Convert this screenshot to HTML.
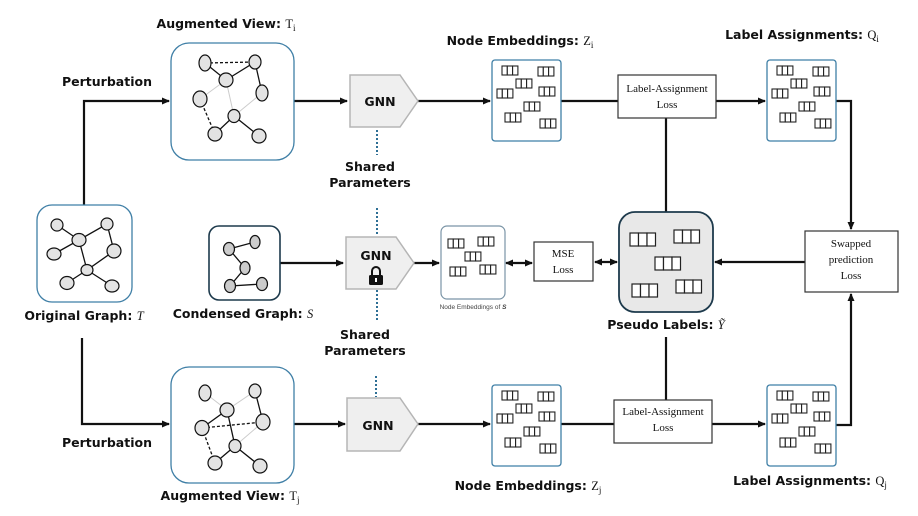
<!DOCTYPE html>
<html><head><meta charset="utf-8"><style>
html,body{margin:0;padding:0;background:#fff;}
svg{display:block;}
.b{font-family:"DejaVu Sans","Liberation Sans",sans-serif;font-weight:bold;font-size:12.5px;fill:#111;}
.s{font-family:"Liberation Serif",serif;font-size:11px;fill:#111;}
</style></head><body>
<svg width="918" height="516" viewBox="0 0 918 516" xmlns="http://www.w3.org/2000/svg">
<defs>
<marker id="a" markerWidth="8" markerHeight="8" refX="7" refY="4" orient="auto" markerUnits="userSpaceOnUse"><path d="M0,0.5 L8,4 L0,7.5 Z" fill="#111"/></marker>
<marker id="as" markerWidth="8" markerHeight="8" refX="1" refY="4" orient="auto" markerUnits="userSpaceOnUse"><path d="M8,0.5 L0,4 L8,7.5 Z" fill="#111"/></marker>
<g id="c"><rect x="0" y="0" width="5.3" height="9" fill="#fff" stroke="#222" stroke-width="1.1"/><rect x="5.3" y="0" width="5.3" height="9" fill="#fff" stroke="#222" stroke-width="1.1"/><rect x="10.6" y="0" width="5.3" height="9" fill="#fff" stroke="#222" stroke-width="1.1"/></g>
<g id="C"><rect x="0" y="0" width="8.5" height="13" fill="#fff" stroke="#222" stroke-width="1.2"/><rect x="8.5" y="0" width="8.5" height="13" fill="#fff" stroke="#222" stroke-width="1.2"/><rect x="17" y="0" width="8.5" height="13" fill="#fff" stroke="#222" stroke-width="1.2"/></g>
<g id="emb">
<use href="#c" x="10" y="6"/><use href="#c" x="46" y="7"/><use href="#c" x="24" y="19"/><use href="#c" x="5" y="29"/><use href="#c" x="47" y="27"/><use href="#c" x="32" y="42"/><use href="#c" x="13" y="53"/><use href="#c" x="48" y="59"/>
</g>
</defs>
<g fill="none" stroke="#111" stroke-width="2.2">
<polyline points="84,205 84,101 169,101" marker-end="url(#a)"/>
<line x1="294" y1="101" x2="347" y2="101" marker-end="url(#a)"/>
<line x1="418" y1="101" x2="490" y2="101" marker-end="url(#a)"/>
<line x1="561" y1="101" x2="618" y2="101"/>
<line x1="716" y1="101" x2="765" y2="101" marker-end="url(#a)"/>
<polyline points="836,101 851,101 851,229" marker-end="url(#a)"/>
<line x1="666" y1="118" x2="666" y2="212"/>
<polyline points="82,338 82,424 169,424" marker-end="url(#a)"/>
<line x1="294" y1="424" x2="345" y2="424" marker-end="url(#a)"/>
<line x1="418" y1="424" x2="490" y2="424" marker-end="url(#a)"/>
<line x1="561" y1="424" x2="614" y2="424"/>
<line x1="712" y1="424" x2="765" y2="424" marker-end="url(#a)"/>
<polyline points="836,425 851,425 851,294" marker-end="url(#a)"/>
<line x1="666" y1="337" x2="666" y2="400"/>
<line x1="280" y1="263" x2="343" y2="263" marker-end="url(#a)"/>
<line x1="414" y1="263" x2="439" y2="263" marker-end="url(#a)"/>
<line x1="506" y1="263" x2="532" y2="263" marker-start="url(#as)" marker-end="url(#a)"/>
<line x1="595" y1="262" x2="617" y2="262" marker-start="url(#as)" marker-end="url(#a)"/>
<line x1="805" y1="262" x2="715" y2="262" marker-end="url(#a)"/>
</g>
<g stroke="#2e6f95" stroke-width="2" stroke-dasharray="2,2">
<line x1="377" y1="130" x2="377" y2="155"/><line x1="377" y1="208" x2="377" y2="236"/>
<line x1="377" y1="290" x2="377" y2="322"/><line x1="376" y1="376" x2="376" y2="397"/>
</g>
<g fill="#fff" stroke="#3f7fa6" stroke-width="1.3">
<rect x="171" y="43" width="123" height="117" rx="18"/>
<rect x="171" y="367" width="123" height="116" rx="18"/>
<rect x="37" y="205" width="95" height="97" rx="15"/>
<rect x="492" y="60" width="69" height="81" rx="3"/>
<rect x="767" y="60" width="69" height="81" rx="3"/>
<rect x="492" y="385" width="69" height="81" rx="3"/>
<rect x="767" y="385" width="69" height="81" rx="3"/>
</g>
<rect x="209" y="226" width="71" height="74" rx="10" fill="#fff" stroke="#1d3a4c" stroke-width="1.6"/>
<rect x="441" y="226" width="64" height="73" rx="6" fill="#fff" stroke="#7a94a6" stroke-width="1.2"/>
<rect x="619" y="212" width="94" height="100" rx="16" fill="#e8e8e8" stroke="#1d3a4c" stroke-width="1.8"/>
<g fill="#fff" stroke="#333" stroke-width="1.2">
<rect x="618" y="75" width="98" height="43"/>
<rect x="614" y="400" width="98" height="43"/>
<rect x="534" y="242" width="59" height="39"/>
<rect x="805" y="231" width="93" height="61"/>
</g>
<g fill="#efefef" stroke="#b5b5b5" stroke-width="1.5">
<polygon points="350,75 400,75 418,101 400,127 350,127"/>
<polygon points="346,237 396,237 414,263 396,289 346,289"/>
<polygon points="347,398 400,398 418,424 400,451 347,451"/>
</g>
<text class="b" x="380" y="106" text-anchor="middle" font-size="13">GNN</text>
<text class="b" x="376" y="260" text-anchor="middle" font-size="13">GNN</text>
<text class="b" x="378" y="430" text-anchor="middle" font-size="13">GNN</text>
<path d="M372,275 v-4 a4,4 0 0 1 8,0 v4" fill="none" stroke="#111" stroke-width="2"/>
<rect x="369" y="275" width="14" height="10" rx="1.5" fill="#111"/>
<rect x="375" y="278" width="2" height="4" fill="#fff"/>
<use href="#emb" x="492" y="60"/><use href="#emb" x="767" y="60"/>
<use href="#emb" x="492" y="385"/><use href="#emb" x="767" y="385"/>
<use href="#c" x="448" y="239"/><use href="#c" x="478" y="237"/><use href="#c" x="465" y="252"/><use href="#c" x="450" y="267"/><use href="#c" x="480" y="265"/>
<use href="#C" x="630" y="233"/><use href="#C" x="674" y="230"/><use href="#C" x="655" y="257"/><use href="#C" x="632" y="284"/><use href="#C" x="676" y="280"/>
<g stroke="#111" stroke-width="1.3" fill="none">
<path d="M57,225L79,240L107,224L114,251L87,270L79,240L54,254M87,270L67,283M87,270L112,286"/>
<path d="M205,63L226,80L255,62L262,93M234,116L215,134M234,116L259,136"/>
<path d="M205,63L255,62M200,99L215,134" stroke-dasharray="3,2"/>
<path d="M226,80L234,116M200,99L226,80M262,93L234,116" stroke="#ccc" stroke-width="1"/>
<path d="M255,391L263,422M202,428L227,410L235,446L215,463M235,446L260,466"/>
<path d="M202,428L263,422M202,428L215,463" stroke-dasharray="3,2"/>
<path d="M205,393L227,410L255,391M263,422L235,446" stroke="#ccc" stroke-width="1"/>
<path d="M229,249L255,242M229,249L245,268L230,286L262,284"/>
</g>
<g fill="#e3e3e3" stroke="#111" stroke-width="1.2">
<ellipse cx="57" cy="225" rx="6" ry="6"/><ellipse cx="107" cy="224" rx="6" ry="6"/><ellipse cx="79" cy="240" rx="7" ry="6.5"/><ellipse cx="54" cy="254" rx="7" ry="6"/><ellipse cx="114" cy="251" rx="7" ry="7"/><ellipse cx="87" cy="270" rx="6" ry="5.5"/><ellipse cx="67" cy="283" rx="7" ry="6.5"/><ellipse cx="112" cy="286" rx="7" ry="6"/>
<ellipse cx="205" cy="63" rx="6" ry="8"/><ellipse cx="255" cy="62" rx="6" ry="7"/><ellipse cx="226" cy="80" rx="7" ry="7"/><ellipse cx="200" cy="99" rx="7" ry="8"/><ellipse cx="262" cy="93" rx="6" ry="8"/><ellipse cx="234" cy="116" rx="6" ry="6.5"/><ellipse cx="215" cy="134" rx="7" ry="7"/><ellipse cx="259" cy="136" rx="7" ry="7"/>
<ellipse cx="205" cy="393" rx="6" ry="8"/><ellipse cx="255" cy="391" rx="6" ry="7"/><ellipse cx="227" cy="410" rx="7" ry="7"/><ellipse cx="202" cy="428" rx="7" ry="7.5"/><ellipse cx="263" cy="422" rx="7" ry="8"/><ellipse cx="235" cy="446" rx="6" ry="6.5"/><ellipse cx="215" cy="463" rx="7" ry="7"/><ellipse cx="260" cy="466" rx="7" ry="7"/>
<ellipse cx="229" cy="249" rx="5.5" ry="6.5" fill="#ccc"/><ellipse cx="255" cy="242" rx="5" ry="6.5" fill="#ccc"/><ellipse cx="245" cy="268" rx="5" ry="6.5" fill="#ccc"/><ellipse cx="230" cy="286" rx="5.5" ry="6.5" fill="#ccc"/><ellipse cx="262" cy="284" rx="5.5" ry="6.5" fill="#ccc"/>
</g>
<text class="b" x="107" y="86" text-anchor="middle">Perturbation</text>
<text class="b" x="107" y="447" text-anchor="middle">Perturbation</text>
<text class="b" x="226" y="28" text-anchor="middle">Augmented View: <tspan font-family="Liberation Serif" font-weight="normal">T<tspan font-size="9" dy="3">i</tspan></tspan></text>
<text class="b" x="230" y="500" text-anchor="middle">Augmented View: <tspan font-family="Liberation Serif" font-weight="normal">T<tspan font-size="9" dy="3">j</tspan></tspan></text>
<text class="b" x="520" y="45" text-anchor="middle">Node Embeddings: <tspan font-family="Liberation Serif" font-weight="normal">Z<tspan font-size="9" dy="3">i</tspan></tspan></text>
<text class="b" x="528" y="490" text-anchor="middle">Node Embeddings: <tspan font-family="Liberation Serif" font-weight="normal">Z<tspan font-size="9" dy="3">j</tspan></tspan></text>
<text class="b" x="802" y="39" text-anchor="middle">Label Assignments: <tspan font-family="Liberation Serif" font-weight="normal">Q<tspan font-size="9" dy="3">i</tspan></tspan></text>
<text class="b" x="810" y="485" text-anchor="middle">Label Assignments: <tspan font-family="Liberation Serif" font-weight="normal">Q<tspan font-size="9" dy="3">j</tspan></tspan></text>
<text class="b" x="84" y="320" text-anchor="middle">Original Graph: <tspan font-family="Liberation Serif" font-style="italic" font-weight="normal">T</tspan></text>
<text class="b" x="243" y="318" text-anchor="middle">Condensed Graph: <tspan font-family="Liberation Serif" font-style="italic" font-weight="normal">S</tspan></text>
<text class="b" x="666" y="329" text-anchor="middle">Pseudo Labels: <tspan font-family="Liberation Serif" font-style="italic" font-weight="normal">Ỹ</tspan></text>
<text class="b" x="370" y="171" text-anchor="middle">Shared</text>
<text class="b" x="370" y="187" text-anchor="middle">Parameters</text>
<text class="b" x="365" y="339" text-anchor="middle">Shared</text>
<text class="b" x="365" y="355" text-anchor="middle">Parameters</text>
<text x="473" y="309" text-anchor="middle" font-family="Liberation Sans,sans-serif" font-size="6.5" fill="#444">Node Embeddings of <tspan font-weight="bold" font-style="italic">S</tspan></text>
<text class="s" x="667" y="92" text-anchor="middle" font-size="10.5">Label-Assignment</text>
<text class="s" x="667" y="108" text-anchor="middle" font-size="10.5">Loss</text>
<text class="s" x="663" y="415" text-anchor="middle" font-size="10.5">Label-Assignment</text>
<text class="s" x="663" y="431" text-anchor="middle" font-size="10.5">Loss</text>
<text class="s" x="563" y="257" text-anchor="middle" font-size="10.5">MSE</text>
<text class="s" x="563" y="273" text-anchor="middle" font-size="10.5">Loss</text>
<text class="s" x="851" y="247" text-anchor="middle" font-size="13.5">Swapped</text>
<text class="s" x="851" y="263" text-anchor="middle" font-size="13.5">prediction</text>
<text class="s" x="851" y="279" text-anchor="middle" font-size="13.5">Loss</text>
</svg>
</body></html>
